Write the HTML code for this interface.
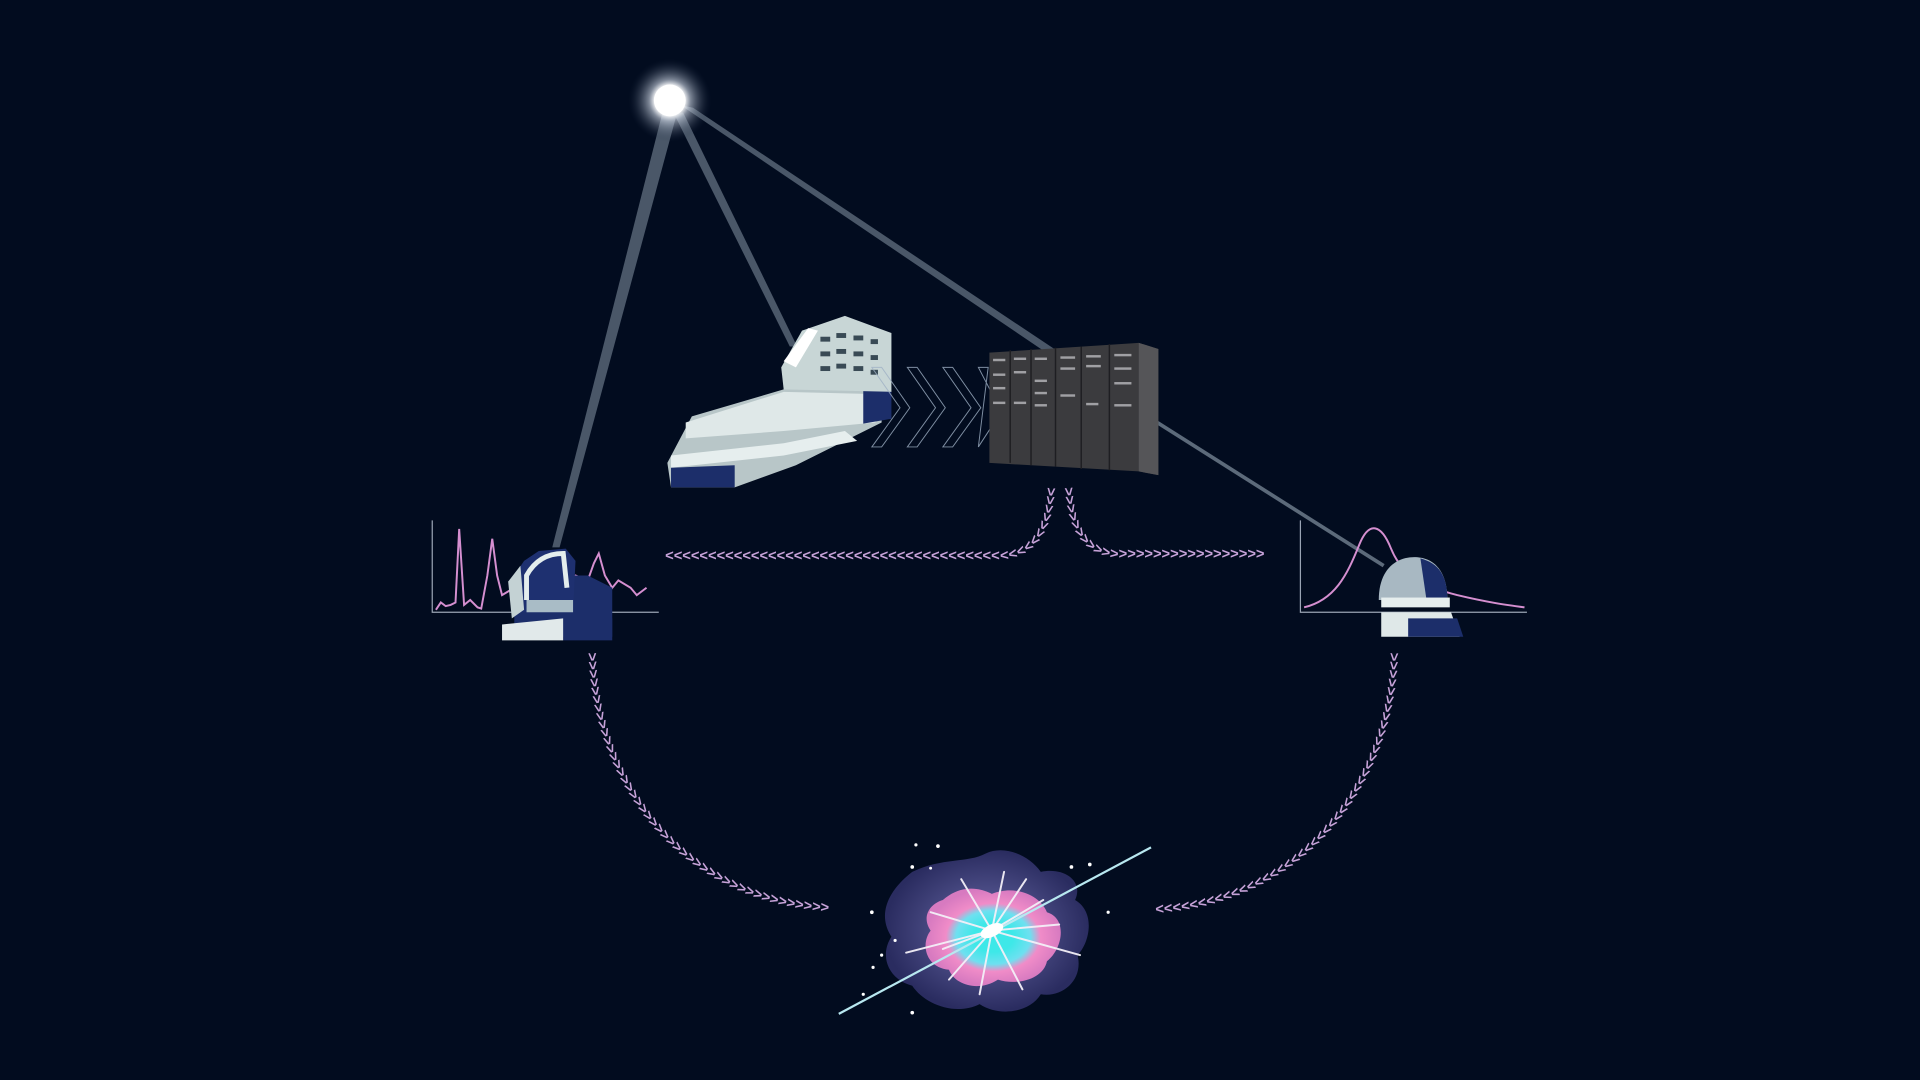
<!DOCTYPE html>
<html><head><meta charset="utf-8"><style>
html,body{margin:0;padding:0;background:#020c1f;}
svg{display:block}
text{font-family:"Liberation Sans",sans-serif;}
</style></head><body>
<svg width="1920" height="1080" viewBox="0 0 1568 882" xmlns="http://www.w3.org/2000/svg">
<defs>
<radialGradient id="glow" cx="0.5" cy="0.5" r="0.5">
<stop offset="0" stop-color="#fff"/><stop offset="0.35" stop-color="#fff"/><stop offset="0.5" stop-color="#cfd8e6" stop-opacity="0.6"/><stop offset="1" stop-color="#1a2840" stop-opacity="0"/></radialGradient>
<radialGradient id="blob" cx="0.5" cy="0.5" r="0.5">
<stop offset="0" stop-color="#6a6aa8"/><stop offset="1" stop-color="#2a2c60"/></radialGradient>
<radialGradient id="pink" cx="0.5" cy="0.5" r="0.5">
<stop offset="0.3" stop-color="#3ee8e8"/><stop offset="0.55" stop-color="#6ee0f0"/><stop offset="0.7" stop-color="#f08cc8"/><stop offset="1" stop-color="#d77ac0"/></radialGradient>
<path id="pl" d="M858,398 C856,430 845,453 815,453 L540,453"/>
<path id="pr" d="M872,398 C874,430 885,453 915,453 L1048,453"/>
<path id="bl" d="M483,533 C485,640 560,742 688,742"/>
<path id="br" d="M1138,533 C1136,640 1060,742 932,742"/>
</defs>
<rect width="1568" height="882" fill="#020c1f"/>
<g>
<polygon points="541,92 553,92 457,447 451,447" fill="#5c6a7a" opacity="0.8"/>
<polygon points="550,92 558,92 651,283 645,283" fill="#5c6a7a" opacity="0.8"/>
<polygon points="556,86 566,88 864,287 856,289" fill="#5c6a7a" opacity="0.8"/>
<line x1="945" y1="345" x2="1130" y2="462" stroke="#5c6a7a" stroke-width="3"/>
</g>
<circle cx="547" cy="82" r="34" fill="url(#glow)"/>
<circle cx="547" cy="82" r="13" fill="#fff"/>
<g>
<polygon points="545,378 565,340 640,318 660,300 720,300 720,345 650,380 600,398 548,398" fill="#b8c6c8"/>
<polygon points="560,345 640,320 720,322 715,345 640,352 560,358" fill="#dfe8e8"/>
<polygon points="548,372 640,362 690,352 700,360 640,372 548,382" fill="#e6eeee"/>
<polygon points="548,382 600,380 600,398 548,398" fill="#1c2e6a"/>
<polygon points="705,318 728,318 728,342 705,346" fill="#1c2e6a"/>
<polygon points="638,300 655,270 690,258 728,272 728,320 640,318" fill="#c8d6d6"/>
<polygon points="640,295 660,268 668,270 650,300" fill="#fff"/>
<g fill="#394a55"><rect x="670" y="275" width="8" height="4"/><rect x="683" y="272" width="8" height="4"/><rect x="697" y="274" width="8" height="4"/><rect x="711" y="277" width="6" height="4"/><rect x="670" y="287" width="8" height="4"/><rect x="683" y="285" width="8" height="4"/><rect x="697" y="287" width="8" height="4"/><rect x="711" y="290" width="6" height="4"/><rect x="670" y="299" width="8" height="4"/><rect x="683" y="297" width="8" height="4"/><rect x="697" y="299" width="8" height="4"/><rect x="711" y="302" width="6" height="4"/></g>
</g>
<g fill="none" stroke="#9fb0c4" stroke-width="0.8" opacity="0.8">
<polygon points="712,365 735,333 712,300 720,300 743,333 720,365"/>
<polygon points="741,365 764,333 741,300 749,300 772,333 749,365"/>
<polygon points="770,365 793,333 770,300 778,300 801,333 778,365"/>
<polygon points="799,365 812,345 812,325 799,300 807,300"/>
</g>
<g>
<polygon points="808,288 930,280 946,285 946,388 930,385 808,378" fill="#3b3b3e"/>
<polygon points="930,280 946,285 946,388 930,385" fill="#555558"/>
<g stroke="#1e1e22" stroke-width="1.2"><line x1="825" y1="286" x2="825" y2="378"/><line x1="842" y1="285" x2="842" y2="380"/><line x1="862" y1="284" x2="862" y2="381"/><line x1="883" y1="283" x2="883" y2="383"/><line x1="906" y1="281" x2="906" y2="384"/></g>
<g fill="#a0a0a4"><rect x="811" y="293" width="10" height="2"/><rect x="828" y="292" width="10" height="2"/><rect x="845" y="292" width="10" height="2"/><rect x="866" y="291" width="12" height="2"/><rect x="887" y="290" width="12" height="2"/><rect x="910" y="289" width="14" height="2"/><rect x="811" y="305" width="10" height="2"/><rect x="828" y="303" width="10" height="2"/><rect x="845" y="310" width="10" height="2"/><rect x="866" y="300" width="12" height="2"/><rect x="887" y="298" width="12" height="2"/><rect x="910" y="300" width="14" height="2"/><rect x="811" y="316" width="10" height="2"/><rect x="845" y="320" width="10" height="2"/><rect x="866" y="322" width="12" height="2"/><rect x="910" y="312" width="14" height="2"/><rect x="811" y="328" width="10" height="2"/><rect x="828" y="328" width="10" height="2"/><rect x="845" y="330" width="10" height="2"/><rect x="887" y="329" width="10" height="2"/><rect x="910" y="330" width="14" height="2"/></g>
</g>
<g fill="#c6a2d8" font-size="12" font-weight="bold" letter-spacing="0" dominant-baseline="central">
<text><textPath href="#pl">&gt;&gt;&gt;&gt;&gt;&gt;&gt;&gt;&gt;&gt;&gt;&gt;&gt;&gt;&gt;&gt;&gt;&gt;&gt;&gt;&gt;&gt;&gt;&gt;&gt;&gt;&gt;&gt;&gt;&gt;&gt;&gt;&gt;&gt;&gt;&gt;&gt;&gt;&gt;&gt;&gt;&gt;&gt;&gt;&gt;&gt;&gt;&gt;&gt;&gt;&gt;&gt;&gt;&gt;&gt;&gt;</textPath></text>
<text><textPath href="#pr">&gt;&gt;&gt;&gt;&gt;&gt;&gt;&gt;&gt;&gt;&gt;&gt;&gt;&gt;&gt;&gt;&gt;&gt;&gt;&gt;&gt;&gt;&gt;&gt;&gt;&gt;&gt;&gt;</textPath></text>
<text><textPath href="#bl">&gt;&gt;&gt;&gt;&gt;&gt;&gt;&gt;&gt;&gt;&gt;&gt;&gt;&gt;&gt;&gt;&gt;&gt;&gt;&gt;&gt;&gt;&gt;&gt;&gt;&gt;&gt;&gt;&gt;&gt;&gt;&gt;&gt;&gt;&gt;&gt;&gt;&gt;&gt;&gt;&gt;&gt;&gt;&gt;&gt;</textPath></text>
<text><textPath href="#br">&gt;&gt;&gt;&gt;&gt;&gt;&gt;&gt;&gt;&gt;&gt;&gt;&gt;&gt;&gt;&gt;&gt;&gt;&gt;&gt;&gt;&gt;&gt;&gt;&gt;&gt;&gt;&gt;&gt;&gt;&gt;&gt;&gt;&gt;&gt;&gt;&gt;&gt;&gt;&gt;&gt;&gt;&gt;&gt;&gt;</textPath></text>
</g>
<g fill="none" stroke="#9aa4b4" stroke-width="1"><polyline points="353,425 353,500 538,500"/></g>
<polyline fill="none" stroke="#d58fd0" stroke-width="1.6" points="356,498 360,492 364,495 368,494 372,492 375,432 379,494 384,490 390,496 393,497 398,470 402,440 406,470 410,486 420,480 460,478 470,470 480,474 485,460 489,452 494,470 500,480 505,474 515,480 520,486 528,480"/>
<g>
<polygon points="420,480 440,470 480,470 500,480 500,520 420,520" fill="#1c2e6a"/>
<polygon points="410,510 460,505 460,523 410,523" fill="#e1e9ea"/>
<polygon points="460,505 500,505 500,523 460,523" fill="#1c2e6a"/>
<polygon points="420,470 428,458 440,450 462,448 470,458 468,500 424,500" fill="#1e3070"/>
<polygon points="430,490 468,490 468,500 430,500" fill="#a9bcc6"/>
<path d="M430,490 L430,470 Q440,452 460,452 L463,480" fill="none" stroke="#e4eded" stroke-width="4"/>
<polygon points="415,475 425,462 428,498 418,505" fill="#c4d2d4"/>
</g>
<g fill="none" stroke="#9aa4b4" stroke-width="1"><polyline points="1062,425 1062,500 1247,500"/></g>
<path d="M1065,496 C1090,490 1100,470 1110,445 C1118,425 1128,428 1136,448 C1145,470 1160,478 1190,486 C1215,492 1230,494 1245,496" fill="none" stroke="#d58fd0" stroke-width="1.6"/>
<g>
<polygon points="1128,500 1185,500 1192,520 1128,520" fill="#dfe8e8"/>
<polygon points="1150,505 1190,505 1195,520 1150,520" fill="#1c2e6a"/>
<path d="M1126,490 C1126,465 1140,455 1155,455 C1170,455 1182,465 1182,490 Z" fill="#a8b8c2"/>
<path d="M1160,456 C1175,460 1182,470 1182,490 L1165,490 Z" fill="#1c2e6a"/>
<rect x="1128" y="488" width="56" height="8" fill="#e6eeee"/>
</g>
<g>
<path d="M745,712 C770,700 790,705 805,697 C820,690 840,698 850,712 C870,708 885,720 878,735 C895,745 890,770 880,780 C885,800 868,815 850,812 C840,828 815,830 800,820 C780,830 755,820 745,805 C725,800 718,780 728,765 C715,745 728,725 745,712 Z" fill="url(#blob)"/>
<path d="M770,735 C785,722 800,725 810,730 C830,722 850,732 855,745 C872,750 868,775 855,785 C852,800 830,805 815,800 C800,810 780,805 775,792 C755,790 752,770 760,760 C752,748 760,738 770,735 Z" fill="url(#pink)"/>
<g stroke="#f4f0f8" stroke-width="1.6" stroke-linecap="round" opacity="0.95">
<line x1="810" y1="760" x2="740" y2="778"/><line x1="810" y1="760" x2="882" y2="780"/><line x1="810" y1="760" x2="785" y2="718"/><line x1="810" y1="760" x2="838" y2="718"/><line x1="810" y1="760" x2="775" y2="800"/><line x1="810" y1="760" x2="835" y2="808"/><line x1="810" y1="760" x2="760" y2="745"/><line x1="810" y1="760" x2="865" y2="755"/><line x1="810" y1="760" x2="800" y2="812"/><line x1="810" y1="760" x2="852" y2="735"/><line x1="810" y1="760" x2="770" y2="775"/><line x1="810" y1="760" x2="820" y2="712"/>
</g>
<line x1="685" y1="828" x2="940" y2="692" stroke="#b8e8f0" stroke-width="1.8"/>
<ellipse cx="810" cy="760" rx="10" ry="5" fill="#fff" transform="rotate(-25 810 760)"/>
<g fill="#fff"><circle cx="712" cy="745" r="1.5"/><circle cx="745" cy="708" r="1.5"/><circle cx="766" cy="691" r="1.5"/><circle cx="748" cy="690" r="1.3"/><circle cx="875" cy="708" r="1.5"/><circle cx="890" cy="706" r="1.5"/><circle cx="905" cy="745" r="1.3"/><circle cx="720" cy="780" r="1.3"/><circle cx="705" cy="812" r="1.3"/><circle cx="745" cy="827" r="1.5"/><circle cx="731" cy="768" r="1.3"/><circle cx="713" cy="790" r="1.3"/><circle cx="760" cy="709" r="1.2"/></g>
</g>
</svg>
</body></html>
